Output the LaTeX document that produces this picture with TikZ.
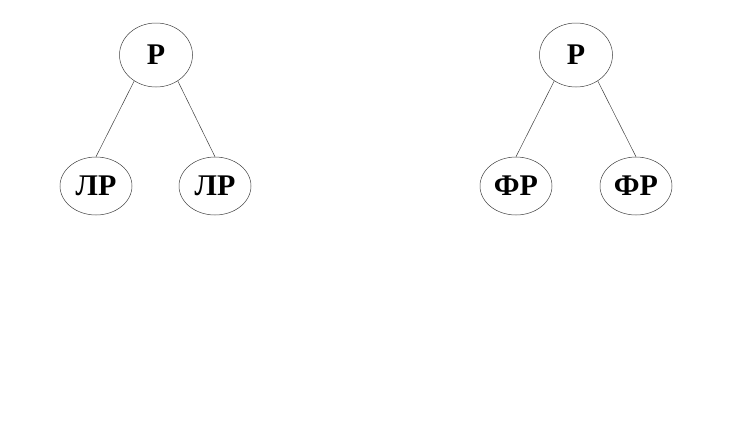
\documentclass[tikz,border=0pt]{standalone}
\usepackage{fontspec}
\setmainfont{Liberation Serif}
\usetikzlibrary{shapes}
\tikzset{vertex/.style={ellipse,draw=black!75,line width=0.5pt,inner sep=0pt,
  minimum width=72pt,minimum height=58pt,font=\fontsize{30}{30}\selectfont\bfseries},
  root/.style={vertex,minimum width=73pt,minimum height=64pt},
  branch/.style={draw=black!75,line width=0.5pt}}
\begin{document}
\begin{tikzpicture}[x=1pt,y=-1pt]
  \useasboundingbox (0,0) rectangle (732,432);
  % left tree
  \node[root] (pl) at (156,55) {Р};
  \node[vertex] (ll) at (96,186) {ЛР};
  \node[vertex] (lr) at (215,186) {ЛР};
  \draw[branch] (pl.-130) -- (ll.north);
  \draw[branch] (pl.-50) -- (lr.north);
  % right tree
  \node[root] (pr) at (576,55) {Р};
  \node[vertex] (rl) at (516,186) {ФР};
  \node[vertex] (rr) at (636,186) {ФР};
  \draw[branch] (pr.-130) -- (rl.north);
  \draw[branch] (pr.-50) -- (rr.north);
\end{tikzpicture}
\end{document}
